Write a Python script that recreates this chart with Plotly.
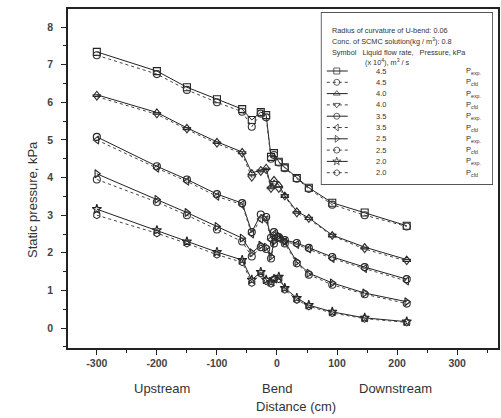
import plotly.graph_objects as go

# Measurement stations along the pipe (cm, negative = upstream of the bend)
distance = [-300, -200, -150, -100, -58, -42, -27, -18, -10, -5, 3, 13, 33, 53, 92, 146, 216]

flow_rates = ["4.5", "4.0", "3.5", "2.5", "2.0"]

# Experimental static pressure, kPa
p_exp = {
    "4.5": [7.34, 6.83, 6.40, 6.08, 5.82, 5.53, 5.74, 5.66, 4.55, 4.65, 4.42, 4.27, 3.99, 3.73, 3.33, 3.07, 2.72],
    "4.0": [6.20, 5.73, 5.32, 4.95, 4.68, 4.12, 4.20, 4.26, 3.75, 3.94, 3.80, 3.52, 3.10, 2.93, 2.47, 2.15, 1.82],
    "3.5": [5.08, 4.30, 3.95, 3.56, 3.32, 2.55, 3.02, 2.95, 2.40, 2.55, 2.42, 2.34, 2.26, 2.13, 1.89, 1.62, 1.30],
    "2.5": [4.10, 3.42, 3.07, 2.70, 2.39, 2.00, 2.20, 2.15, 1.90, 2.30, 2.45, 2.30, 1.76, 1.46, 1.20, 0.93, 0.70],
    "2.0": [3.16, 2.60, 2.30, 2.02, 1.81, 1.28, 1.49, 1.28, 1.22, 1.30, 1.36, 1.06, 0.80, 0.61, 0.43, 0.27, 0.17],
}

# CFD static pressure, kPa
p_cfd = {
    "4.5": [7.25, 6.75, 6.33, 6.00, 5.75, 5.35, 5.70, 5.60, 4.50, 4.60, 4.40, 4.25, 3.97, 3.70, 3.28, 3.00, 2.70],
    "4.0": [6.15, 5.68, 5.28, 4.90, 4.64, 4.00, 4.15, 4.20, 3.70, 3.85, 3.70, 3.50, 3.05, 2.90, 2.45, 2.10, 1.78],
    "3.5": [5.00, 4.25, 3.90, 3.50, 3.28, 2.50, 2.90, 2.88, 2.35, 2.50, 2.38, 2.30, 2.22, 2.10, 1.85, 1.58, 1.25],
    "2.5": [3.95, 3.35, 3.00, 2.62, 2.30, 1.90, 2.15, 2.10, 1.85, 2.25, 2.40, 2.25, 1.72, 1.42, 1.15, 0.90, 0.65],
    "2.0": [3.00, 2.52, 2.25, 1.95, 1.75, 1.20, 1.45, 1.25, 1.18, 1.30, 1.30, 1.02, 0.75, 0.58, 0.40, 0.25, 0.15],
}

x_ticks = [-300, -200, -100, 0, 100, 200, 300]
x_ticktext = ["-300", "-200", "-100", "0", "100", "200", "300"]
y_ticks = [0, 1, 2, 3, 4, 5, 6, 7, 8]
y_ticktext = ["0", "1", "2", "3", "4", "5", "6", "7", "8"]
region_labels = ["Upstream", "Bend", "Downstream"]
region_pos = [-192, 0, 197]

legend_header = [
    "Radius of curvature of U-bend: 0.06",
    "Conc. of SCMC solution(kg / m<sup>3</sup>): 0.8",
    "Symbol&nbsp;&nbsp;&nbsp;Liquid flow rate,&nbsp;&nbsp;&nbsp;Pressure, kPa",
    "(x 10<sup>4</sup>), m<sup>3</sup> / s",
]

exp_symbols = ["square-open", "triangle-up-open", "circle-open", "triangle-right-open", "star-open"]
cfd_symbols = ["circle-open", "triangle-down-open", "triangle-left-open", "circle-open", "hexagon-open"]

FONT = "Liberation Sans, Arial, sans-serif"
TXT = "#333"
TICK = "#444"

exp_line = dict(color="#222", width=1.0)
cfd_line = dict(color="#444", width=1.0, dash="dot")

fig = go.Figure()
for i, q in enumerate(flow_rates):
    fig.add_trace(go.Scatter(
        x=distance, y=p_exp[q], mode="lines+markers", showlegend=False,
        line=exp_line,
        marker=dict(symbol=exp_symbols[i], size=7, color="#222", line=dict(width=1.1)),
    ))
    fig.add_trace(go.Scatter(
        x=distance, y=p_cfd[q], mode="lines+markers", showlegend=False,
        line=cfd_line,
        marker=dict(symbol=cfd_symbols[i], size=7, color="#333", line=dict(width=1.1)),
    ))

# Key panel: drawn on an overlay axis pair whose units are pixels of the box
key_rows = []
for i, q in enumerate(flow_rates):
    key_rows.append((q, exp_symbols[i], exp_line, "P<sub>exp.</sub>"))
    key_rows.append((q, cfd_symbols[i], cfd_line, "P<sub>cfd</sub>"))

row_y0, row_dy = 71, 11.3
for k, (q, sym, ln, ptxt) in enumerate(key_rows):
    yy = row_y0 + k * row_dy
    fig.add_trace(go.Scatter(
        x=[328, 338, 349], y=[yy, yy, yy], xaxis="x2", yaxis="y2",
        mode="lines+markers", showlegend=False, hoverinfo="skip",
        line=ln, marker=dict(symbol=sym, size=[0, 6, 0], color="#222", line=dict(width=1)),
    ))
    fig.add_annotation(x=375, y=yy, xref="x2", yref="y2", text=q, showarrow=False,
                       xanchor="left", yanchor="middle", font=dict(size=7.5, color=TXT, family=FONT))
    fig.add_annotation(x=466, y=yy, xref="x2", yref="y2", text=ptxt, showarrow=False,
                       xanchor="left", yanchor="middle", font=dict(size=7.5, color=TXT, family=FONT))

header_pos = [(331, 30), (331, 41), (331, 52), (364, 62)]
for txt, (hx, hy) in zip(legend_header, header_pos):
    fig.add_annotation(x=hx, y=hy, xref="x2", yref="y2", text=txt, showarrow=False,
                       xanchor="left", yanchor="middle", font=dict(size=7.3, color=TXT, family=FONT))

fig.add_shape(type="rect", xref="x2", yref="y2", x0=322, x1=495, y0=12, y1=185,
              line=dict(color="#555", width=1.8), fillcolor="rgba(0,0,0,0)", layer="above")

for txt, xp in zip(region_labels, region_pos):
    fig.add_annotation(x=xp, xref="x", y=-0.118, yref="paper", text=txt, yanchor="middle",
                       showarrow=False, font=dict(size=13, color=TXT, family=FONT))
fig.add_annotation(x=31, xref="x", y=-0.174, yref="paper", text="Distance (cm)", yanchor="middle",
                   showarrow=False, font=dict(size=13, color=TXT, family=FONT))
# vertical axis title, 36 px left of the plotting area
fig.add_annotation(x=0, xref="paper", xshift=-36, y=(348 - 200) / 339, yref="paper",
                   text="Static pressure, kPa", textangle=-90, xanchor="center", yanchor="middle",
                   showarrow=False, font=dict(size=13, color=TXT, family=FONT))

fig.update_layout(
    width=501, height=418,
    margin=dict(l=68, r=1, t=9, b=70),
    paper_bgcolor="white", plot_bgcolor="white",
    font=dict(family=FONT, color=TXT),
    showlegend=False,
    xaxis=dict(
        range=[-348, 368], tickvals=x_ticks, ticktext=[f"<b>{t}</b>" for t in x_ticktext],
        ticks="outside", ticklen=5, tickwidth=1.3, tickcolor="#222",
        showline=True, linecolor="#222", linewidth=1.5, mirror=True,
        showgrid=False, zeroline=False,
        tickfont=dict(size=10.5, color=TICK, family=FONT),
        minor=dict(dtick=50, tick0=0, ticks="outside", ticklen=3, tickcolor="#222"),
    ),
    yaxis=dict(
        range=[-0.53, 8.48], tickvals=y_ticks, ticktext=[f"<b>{t}</b>" for t in y_ticktext],
        ticks="outside", ticklen=5, tickwidth=1.3, tickcolor="#222",
        showline=True, linecolor="#222", linewidth=1.5, mirror=True,
        showgrid=False, zeroline=False, ticklabelstandoff=6,
        tickfont=dict(size=10.5, color=TICK, family=FONT),
        minor=dict(dtick=0.5, tick0=0, ticks="outside", ticklen=3, tickcolor="#222"),
    ),
    xaxis2=dict(domain=[(322 - 68) / 432, (495 - 68) / 432], range=[322, 495], visible=False,
                fixedrange=True, anchor="y2"),
    yaxis2=dict(domain=[(348 - 185) / 339, (348 - 12) / 339], range=[185, 12], visible=False,
                fixedrange=True, anchor="x2"),
)

fig.write_html("out.html")
